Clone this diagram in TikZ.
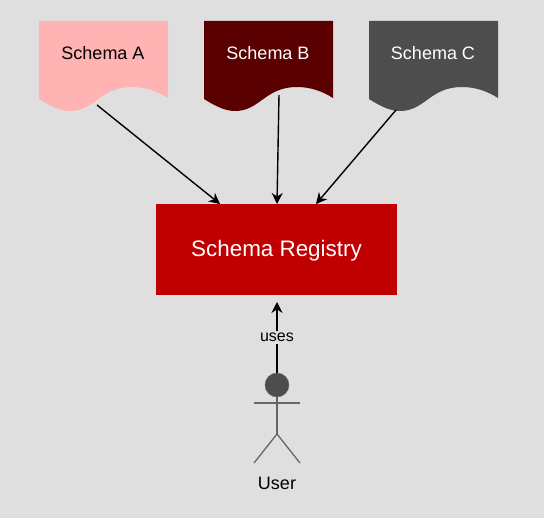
\documentclass[tikz,border=0pt]{standalone}
\usepackage{fontspec}
\setmainfont{Liberation Sans}
\usetikzlibrary{arrows.meta}
\definecolor{bgGray}{HTML}{DFDFDF}
\definecolor{pinkA}{HTML}{FFB3B3}
\definecolor{maroonB}{HTML}{5A0000}
\definecolor{grayC}{HTML}{4D4D4D}
\definecolor{regRed}{HTML}{C00000}
\definecolor{stickGray}{HTML}{666666}
\tikzset{
  link/.style = {draw = black, line width = 1.4pt, -{Stealth[length = 11pt, width = 11pt]}},
  stick/.style = {draw = stickGray, line width = 1.3pt},
}

\begin{document}
\begin{tikzpicture}[x = 1pt, y = -1pt]
    \useasboundingbox (0,0) rectangle (544,518);
    \fill[bgGray] (0,0) rectangle (544,518);
    % schema documents
    \foreach \n/\x/\Clr/\Txt in {A/39/pinkA/black, B/204/maroonB/white, C/369/grayC/white} {
        \fill[\Clr] (\x,21) -- (\x+129,21) -- (\x+129,98)
            .. controls (\x+118,91) and (\x+106,87) .. (\x+93,87)
            .. controls (\x+61,87) and (\x+56,111) .. (\x+31,111)
            .. controls (\x+21,111) and (\x+11,106) .. (\x,99) -- cycle;
        \node[text = \Txt, font = \fontsize{18}{20}\selectfont] (doc\n) at (\x+64,53.5) {Schema \n};
    }
    \node[fill = regRed, minimum width = 241pt, minimum height = 91pt, inner sep = 0pt] (reg) at (276.5,249.5) {};
    \node[text = white, font = \fontsize{22.4}{26}\selectfont] (regLabel) at (276.5,251) {Schema Registry};
    % arrow ends
    \coordinate (outA) at (97,105);
    \coordinate (outB) at (279,95);
    \coordinate (outC) at (396,110);
    \coordinate (inA) at (220,204);
    \coordinate (inB) at (277,204);
    \coordinate (inC) at (316,204);
    \draw[link] (outA) -- (inA);
    \draw[link] (outB) -- (inB);
    \draw[link] (outC) -- (inC);
    % user
    \node[circle, fill = grayC, draw = stickGray, minimum size = 24pt, inner sep = 0pt] (head) at (277,385) {};
    \coordinate (armL) at (254,403);
    \coordinate (armR) at (300,403);
    \coordinate (hip) at (277,434);
    \coordinate (legL) at (254,463);
    \coordinate (legR) at (300,463);
    \draw[stick] (head) -- (hip);
    \draw[stick] (armL) -- (armR);
    \draw[stick] (legL) -- (hip) -- (legR);
    \node[font = \fontsize{18}{21}\selectfont] (user) at (277,483) {User};
    \coordinate (inReg) at (277,302);
    \draw[link] (head) -- node[fill = bgGray, inner xsep = 1pt, inner ysep = 2pt, font = \fontsize{16}{18}\selectfont] (uses) {uses} (inReg);
\end{tikzpicture}
\end{document}
